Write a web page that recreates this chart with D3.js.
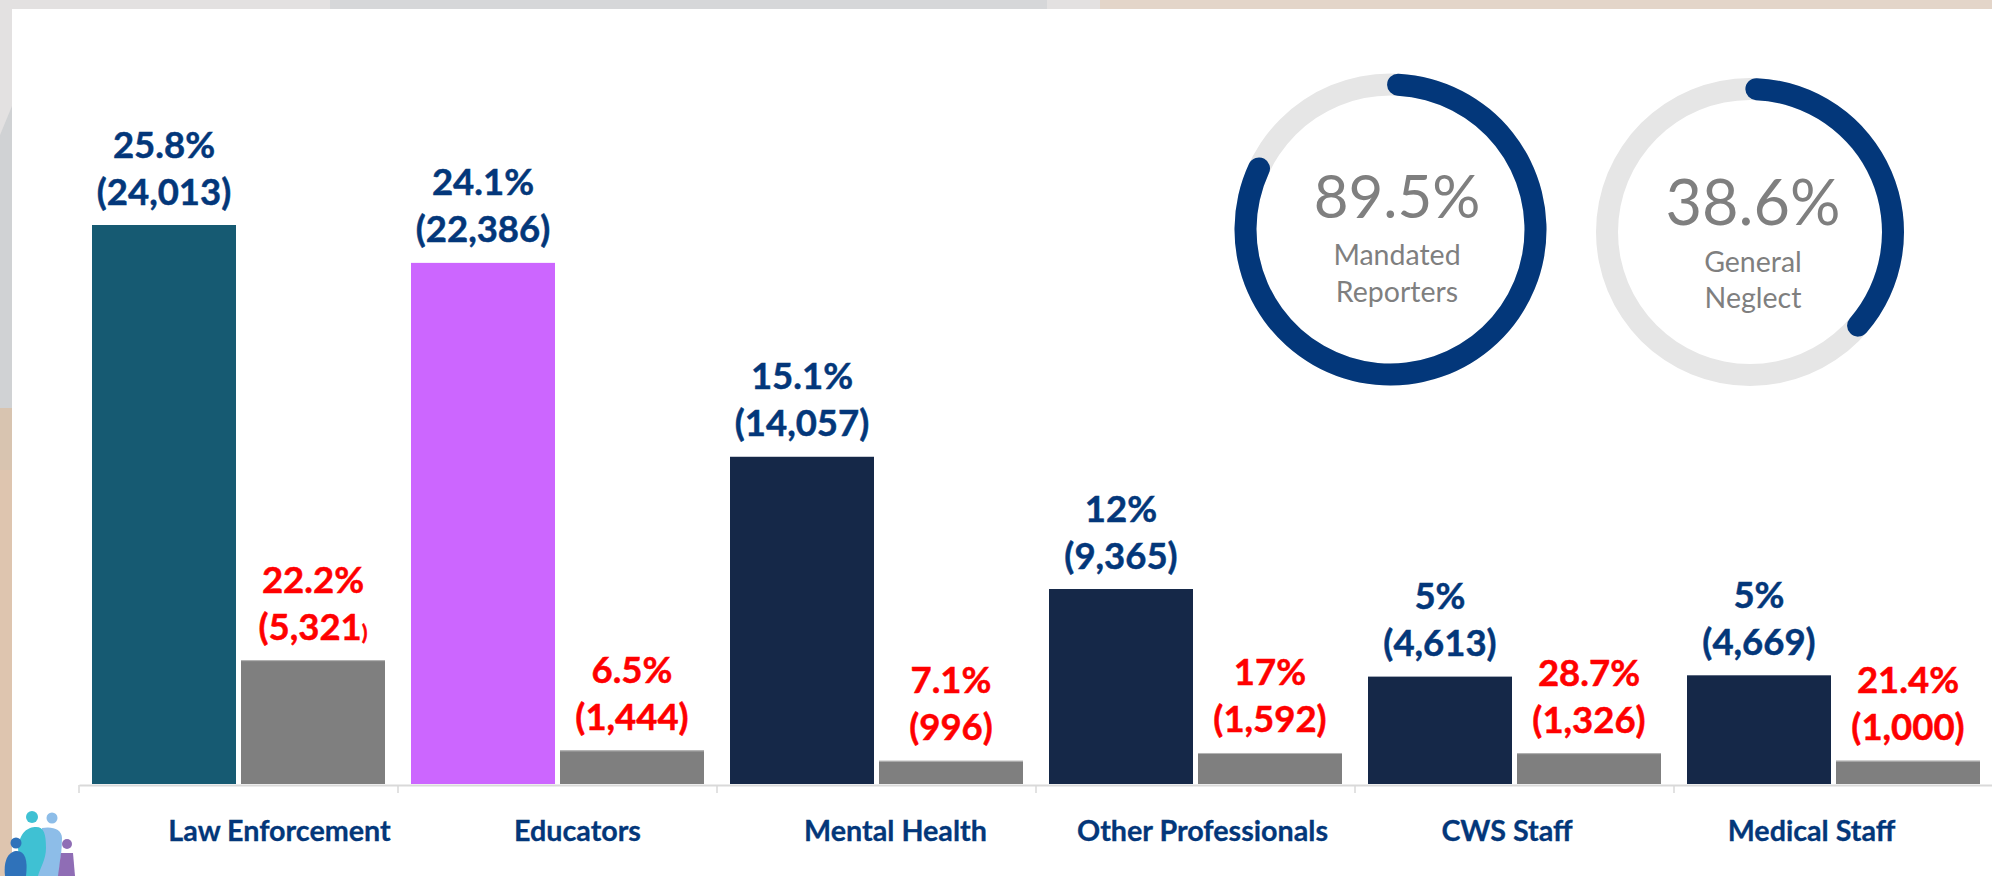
<!DOCTYPE html>
<html><head><meta charset="utf-8">
<script src="https://cdn.jsdelivr.net/npm/d3@7"></script>
<style>html,body{margin:0;padding:0;background:#fff;overflow:hidden}svg{display:block}text{font-family:Lato,"Open Sans",sans-serif}</style>
</head><body><svg id="c" width="1992" height="876"></svg>
<script>
const categories = ["Law Enforcement","Educators","Mental Health","Other Professionals","CWS Staff","Medical Staff"];
const seriesKeys = ["primary","secondary"];
const primaryPct = ["25.8%","24.1%","15.1%","12%","5%","5%"];
const primaryCounts = [24013,22386,14057,9365,4613,4669];
const primaryBarHeights = [24013,22386,14057,8376,4613,4669]; // as drawn in the picture
const secondaryPct = ["22.2%","6.5%","7.1%","17%","28.7%","21.4%"];
const secondaryCounts = [5321,1444,996,1592,1326,1000];
const secondaryBarHeights = [5321,1444,996,1332,1326,1000]; // as drawn in the picture
const donutLabels = ["89.5%","38.6%"];
const donutNames = [["Mandated","Reporters"],["General","Neglect"]];
const donutDrawnShare = [83.5,38.1]; // arc length as drawn, percent of circle

const svg = d3.select("#c");
const NAVY="#03377a", RED="#ff0000", GREY="#7f7f7f";
const primaryFill=["#165a72","#cc66ff","#152848","#152848","#152848","#152848"];

// backdrop strips
const bg=svg.append("g");
[[0,0,330,9,"#e3e1e1"],[330,0,717,9,"#d6d7d9"],[1047,0,53,9,"#e3e1e1"],[1100,0,892,9,"#e3d5c9"],
 [0,0,12,408,"#d0d2d4"],[0,408,12,468,"#dec5af"],[0,408,12,62,"#d8c4b0"]]
 .forEach(r=>bg.append("rect").attr("x",r[0]).attr("y",r[1]).attr("width",r[2]).attr("height",r[3]).attr("fill",r[4]));
bg.append("path").attr("d","M0,0 L12,0 L12,106 L0,135 Z").attr("fill","#e3e1e1");

const x0=d3.scaleBand().domain(categories).range([79,1993]);
const x1=d3.scaleBand().domain(seriesKeys).range([0,x0.bandwidth()]).paddingInner(5/149).paddingOuter(13/149);
const y=d3.scaleLinear().domain([0,24013]).range([784,225]);

// axis
const axisG=svg.append("g").attr("transform","translate(0,785)");
const nudge=[41,20,19,7,-7.5,-22];
const axis=d3.axisBottom(x0).tickSize(0).tickPadding(30);
axisG.call(axis);
axisG.select(".domain").attr("stroke","#d9d9d9").attr("stroke-width",2);
axisG.selectAll(".tick text").attr("dx",(d,i)=>nudge[i]).attr("y",0).attr("dy",56)
  .attr("fill",NAVY).attr("font-size",28.7).attr("font-weight",700).style("font-family","Lato")
  .attr("stroke",NAVY).attr("stroke-width",0.3);
axisG.selectAll(".sep").data(categories.concat(["end"])).enter().append("line").attr("class","sep")
  .attr("x1",(d,i)=>x0.range()[0]+i*x0.step()).attr("x2",(d,i)=>x0.range()[0]+i*x0.step())
  .attr("y1",0).attr("y2",8).attr("stroke","#d9d9d9").attr("stroke-width",1.5);

// bars
const groups=svg.append("g").selectAll("g").data(categories).enter().append("g")
  .attr("transform",d=>`translate(${x0(d)},0)`);
groups.append("rect").attr("x",x1("primary")).attr("width",x1.bandwidth())
  .attr("y",(d,i)=>y(primaryBarHeights[i])).attr("height",(d,i)=>y(0)-y(primaryBarHeights[i]))
  .attr("fill",(d,i)=>primaryFill[i]);
groups.append("rect").attr("x",x1("secondary")).attr("width",x1.bandwidth())
  .attr("y",(d,i)=>y(secondaryBarHeights[i])).attr("height",(d,i)=>y(0)-y(secondaryBarHeights[i]))
  .attr("fill",GREY);
groups.append("line").attr("x1",x1("secondary")).attr("x2",x1("secondary")+x1.bandwidth())
  .attr("y1",(d,i)=>y(secondaryBarHeights[i])+.5).attr("y2",(d,i)=>y(secondaryBarHeights[i])+.5)
  .attr("stroke","#b5b5b5");

// value labels
const fmt=d3.format(",");
function labels(key,pct,counts,heights,color){
  const cx=x1(key)+x1.bandwidth()/2;
  const t=groups.append("g").attr("fill",color).attr("stroke",color).attr("stroke-width",0.5)
    .attr("font-size",36.5).attr("font-weight",700).attr("text-anchor","middle");
  t.append("text").attr("x",cx).attr("y",(d,i)=>y(heights[i])-67.5).text((d,i)=>pct[i]);
  const c=t.append("text").attr("x",cx).attr("y",(d,i)=>y(heights[i])-20.5);
  c.each(function(d,i){
    const el=d3.select(this);
    if(key==="secondary"&&i===0){
      el.append("tspan").text("("+fmt(counts[i]));
      el.append("tspan").attr("font-size",21).text(")");
    } else el.text("("+fmt(counts[i])+")");
  });
}
labels("primary",primaryPct,primaryCounts,primaryBarHeights,NAVY);
labels("secondary",secondaryPct,secondaryCounts,secondaryBarHeights,RED);

// donuts
const ang=d3.scaleLinear().domain([0,100]).range([0,2*Math.PI]);
const donutLayout=[
 {cx:1390.5,cy:229.5,r:156,start:-1.35,tx:1397,bl:218,fs:60,n:[265,302]},
 {cx:1750,cy:232,r:154,start:-1.85,tx:1753,bl:225,fs:63,n:[272,308]}];
donutLayout.forEach((l,i)=>{
  const g=svg.append("g");
  const th=22, a0=l.start*Math.PI/180;
  g.append("path").attr("transform",`translate(${l.cx},${l.cy})`)
    .attr("d",d3.arc().innerRadius(l.r-th).outerRadius(l.r).startAngle(0).endAngle(2*Math.PI)()).attr("fill","#e6e6e6");
  g.append("path").attr("transform",`translate(${l.cx},${l.cy})`)
    .attr("d",d3.arc().innerRadius(l.r-th).outerRadius(l.r).cornerRadius(th/2).startAngle(a0).endAngle(a0+ang(donutDrawnShare[i]))())
    .attr("fill",NAVY);
  g.append("text").attr("x",l.tx).attr("y",l.bl).attr("text-anchor","middle").attr("font-size",l.fs).attr("fill",GREY).text(donutLabels[i]);
  donutNames[i].forEach((s,j)=>g.append("text").attr("x",l.tx).attr("y",l.n[j]).attr("text-anchor","middle")
    .attr("font-size",28.5).attr("fill",GREY).text(s));
});

// small logo, bottom left
const logo=svg.append("g");
logo.append("path").attr("d","M42,828 C52,826 62,829 62,838 C62,850 60,862 59,876 L36,876 Z").attr("fill","#8dbde8");
logo.append("path").attr("d","M18,848 C20,832 28,827 36,827 C44,827 46,834 46,848 C46,860 40,868 38,876 L26,876 C26,866 18,860 18,848Z").attr("fill","#3fc1d3");
logo.append("circle").attr("cx",32).attr("cy",817).attr("r",6).attr("fill","#3fc1d3");
logo.append("circle").attr("cx",52).attr("cy",818).attr("r",5.5).attr("fill","#8dbde8");
logo.append("circle").attr("cx",67).attr("cy",844).attr("r",5).attr("fill","#8f6db5");
logo.append("path").attr("d","M61,853 L73,853 L75,876 L58,876 Z").attr("fill","#8f6db5");
logo.append("circle").attr("cx",16).attr("cy",843).attr("r",5.5).attr("fill","#2f72ba");
logo.append("path").attr("d","M5,876 C3,858 10,851 17,851 C25,851 28,860 26,876 Z").attr("fill","#2f72ba");
</script></body></html>
